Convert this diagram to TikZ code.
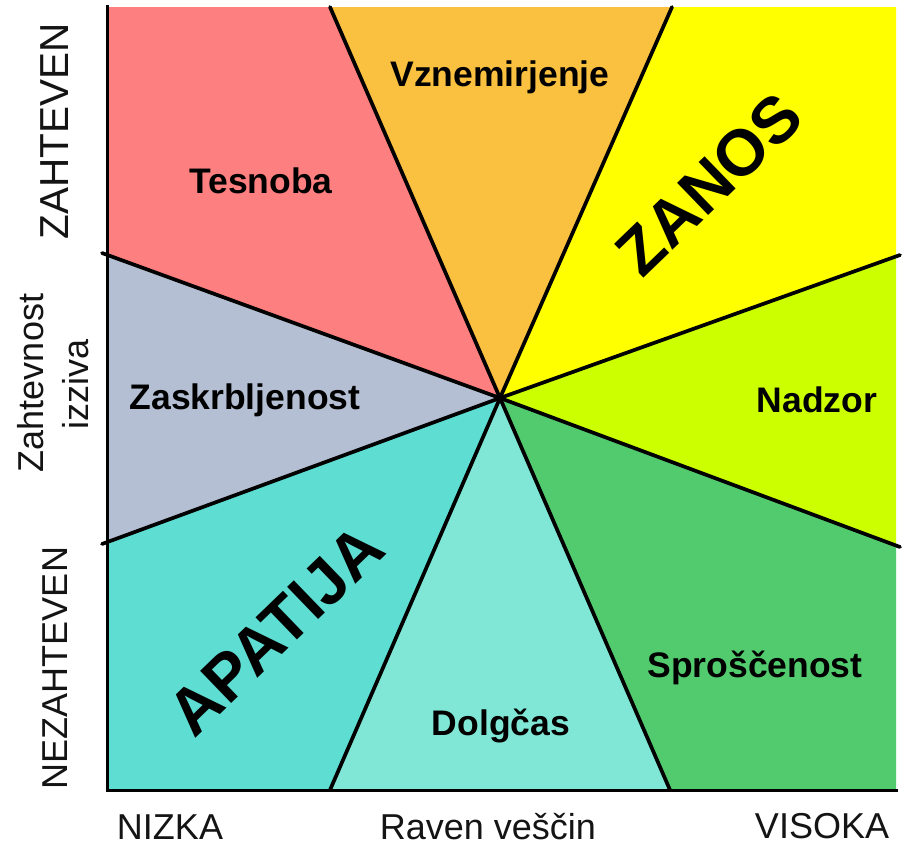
\documentclass[tikz,border=0pt]{standalone}
\usepackage{fontspec}
\setmainfont{Liberation Sans}
\definecolor{cTes}{HTML}{FE7F7F}
\definecolor{cVzn}{HTML}{FAC040}
\definecolor{cZan}{HTML}{FFFF00}
\definecolor{cNad}{HTML}{CCFF00}
\definecolor{cSpr}{HTML}{52CB6E}
\definecolor{cDol}{HTML}{80E6D5}
\definecolor{cApa}{HTML}{5EDDD3}
\definecolor{cZas}{HTML}{B4BFD3}
\begin{document}
\begin{tikzpicture}[x=1pt,y=-1pt,
  lbl/.style={font=\fontsize{35.5}{40}\selectfont\bfseries, inner sep=0pt, anchor=base},
  axl/.style={font=\fontsize{36}{40}\selectfont, inner sep=0pt, anchor=base, text=black!92},
  big/.style={font=\fontsize{65}{70}\selectfont\bfseries, inner sep=0pt, rotate=44},
  sepline/.style={line width=3.7pt, line cap=round},
  axisline/.style={line width=3pt}]
\useasboundingbox (0,0) rectangle (909,846);
\fill[white] (0,0) rectangle (909,846);
% key points
\coordinate (C) at (500,398);
\coordinate (T1) at (330,7);
\coordinate (T2) at (672,7);
\coordinate (TL) at (107,7);
\coordinate (TR) at (896,7);
\coordinate (L1) at (107,254);
\coordinate (L2) at (107,543);
\coordinate (R1) at (896,256);
\coordinate (R2) at (896,546);
\coordinate (BL) at (107,790);
\coordinate (BR) at (896,790);
\coordinate (B1) at (330,790);
\coordinate (B2) at (670,790);
\coordinate (L1e) at (102,253);
\coordinate (L2e) at (102,544);
\coordinate (R1e) at (900,255);
\coordinate (R2e) at (900,547);
% sectors
\fill[cTes] (C) -- (T1) -- (TL) -- (L1) -- cycle;
\fill[cVzn] (C) -- (T1) -- (T2) -- cycle;
\fill[cZan] (C) -- (T2) -- (TR) -- (R1) -- cycle;
\fill[cNad] (C) -- (R1) -- (R2) -- cycle;
\fill[cSpr] (C) -- (R2) -- (BR) -- (B2) -- cycle;
\fill[cDol] (C) -- (B2) -- (B1) -- cycle;
\fill[cApa] (C) -- (B1) -- (BL) -- (L2) -- cycle;
\fill[cZas] (C) -- (L2) -- (L1) -- cycle;
% separators
\draw[sepline] (C) -- (T1);
\draw[sepline] (C) -- (T2);
\draw[sepline] (C) -- (L1e);
\draw[sepline] (C) -- (L2e);
\draw[sepline] (C) -- (R1e);
\draw[sepline] (C) -- (R2e);
\draw[sepline] (C) -- (B1);
\draw[sepline] (C) -- (B2);
% axes
\coordinate (AxTop) at (107,5);
\coordinate (AxEnd) at (898,790);
\draw[axisline] (AxTop) -- (BL) -- (AxEnd);
% sector labels
\node[lbl] (tes) at (261,193) {Tesnoba};
\node[lbl] (vzn) at (500,86) {Vznemirjenje};
\node[lbl] (zas) at (245,409) {Zaskrbljenost};
\node[lbl] (nad) at (817,412) {Nadzor};
\node[lbl] (spr) at (755,677) {Sproščenost};
\node[lbl] (dol) at (501,735) {Dolgčas};
\node[big] (zan) at (709,184) {ZANOS};
\node[big] (apa) at (276,630) {APATIJA};
% axis labels
\node[axl, rotate=90, font=\fontsize{40.5}{44}\selectfont] (zah) at (68,131) {ZAHTEVEN};
\node[axl, rotate=90] (nez) at (67,668) {NEZAHTEVEN};
\node[axl, rotate=90] (izz1) at (43,383) {Zahtevnost};
\node[axl, rotate=90] (izz2) at (88,384) {izziva};
\node[axl] (niz) at (170,839) {NIZKA};
\node[axl] (rav) at (488,839) {Raven veščin};
\node[axl] (vis) at (822,838) {VISOKA};
\end{tikzpicture}
\end{document}
